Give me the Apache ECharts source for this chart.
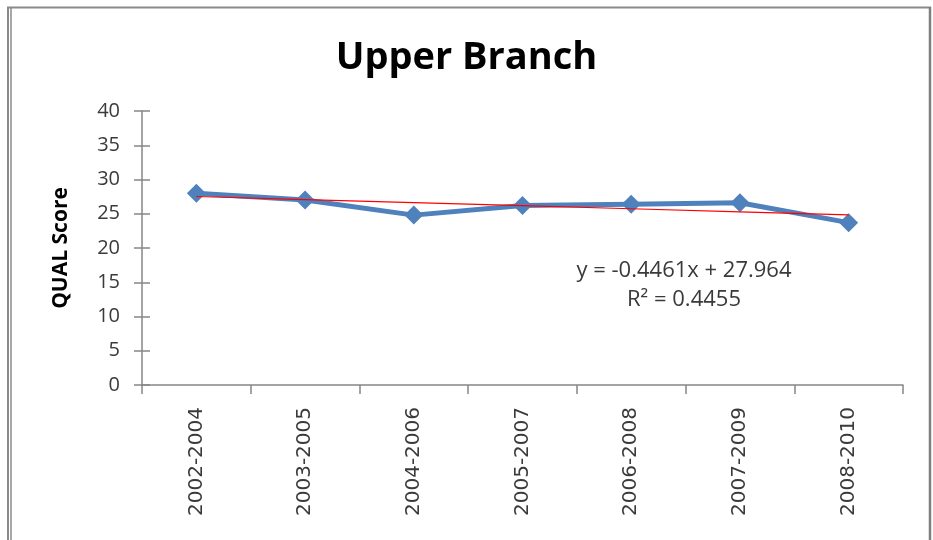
<!DOCTYPE html>
<html>
<head>
<meta charset="utf-8">
<script src="https://cdn.jsdelivr.net/npm/echarts@6/dist/echarts.min.js"></script>
<style>
    html, body { margin: 0; padding: 0; background: #fff; }
    #divChart { width: 933px; height: 540px; }
</style>
</head>
<body>
<div id="divChart"></div>
<script>
// categories (3-year windows)
var periods = ['2002-2004', '2003-2005', '2004-2006', '2005-2007', '2006-2008', '2007-2009', '2008-2010'];
// QUAL score
var qualScore = [28.0, 27.0, 24.8, 26.2, 26.4, 26.6, 23.7];
// linear trend as printed on the chart
var trendSlope = -0.4461;
var trendIntercept = 27.964;
var trendR2 = 0.4455;
var yTicks = [0, 5, 10, 15, 20, 25, 30, 35, 40];

// trend line values from the printed equation (x = 1..n)
var trendLine = [];
for (var i = 0; i < periods.length; i++) {
    trendLine.push(+(trendIntercept + trendSlope * (i + 1)).toFixed(3));
}

var axisGray = '#868686';
var labelColor = '#3a3a3a';

var myChart = echarts.init(document.getElementById('divChart'));

var option = {
    animation: false,
    backgroundColor: '#fff',
    grid: {
        left: 142,
        right: 30,
        top: 111,
        bottom: 155
    },
    xAxis: [{
        type: 'category',
        data: periods,
        boundaryGap: true,
        axisLine: { lineStyle: { color: axisGray, width: 1.5 } },
        axisTick: { show: true, length: 9, lineStyle: { color: axisGray, width: 1.5 } },
        axisLabel: {
            rotate: 90,
            margin: 22,
            color: labelColor,
            fontFamily: 'DejaVu Sans',
            fontSize: 20
        },
        splitLine: { show: false }
    }],
    yAxis: [{
        type: 'value',
        min: yTicks[0],
        max: yTicks[yTicks.length - 1],
        interval: 5,
        name: 'QUAL Score',
        nameLocation: 'middle',
        nameGap: 70,
        nameRotate: 90,
        nameTextStyle: {
            color: '#000',
            fontFamily: 'Open Sans',
            fontWeight: 'bold',
            fontSize: 21
        },
        axisLine: { show: true, lineStyle: { color: axisGray, width: 1.5 } },
        axisTick: { show: true, length: 8, lineStyle: { color: axisGray, width: 1.5 } },
        axisLabel: {
            margin: 22,
            color: labelColor,
            fontFamily: 'Open Sans',
            fontSize: 20
        },
        splitLine: { show: false }
    }, {
        // inner half of the cross ticks
        type: 'value',
        position: 'left',
        min: yTicks[0],
        max: yTicks[yTicks.length - 1],
        interval: 5,
        axisLine: { show: false },
        axisTick: { show: true, inside: true, length: 8, lineStyle: { color: axisGray, width: 1.5 } },
        axisLabel: { show: false },
        splitLine: { show: false }
    }],
    series: [{
        name: 'QUAL Score',
        type: 'line',
        data: qualScore,
        symbol: 'diamond',
        symbolSize: 19,
        lineStyle: { color: '#4F81BD', width: 5 },
        itemStyle: { color: '#4F81BD' },
        z: 2
    }, {
        name: 'Linear',
        type: 'line',
        data: trendLine,
        symbol: 'none',
        lineStyle: { color: '#FF0000', width: 1.2 },
        z: 3
    }],
    graphic: [
        // frame around the chart
        { type: 'line', shape: { x1: 7, y1: 7.5, x2: 931, y2: 7.5 }, style: { stroke: '#8a8a8a', lineWidth: 2 } },
        { type: 'line', shape: { x1: 8, y1: 7, x2: 8, y2: 540 }, style: { stroke: '#8a8a8a', lineWidth: 2 } },
        { type: 'line', shape: { x1: 11, y1: 7, x2: 11, y2: 540 }, style: { stroke: '#8a8a8a', lineWidth: 1.5 } },
        { type: 'line', shape: { x1: 930, y1: 7, x2: 930, y2: 540 }, style: { stroke: '#808080', lineWidth: 2.5 } },
        {
            type: 'text',
            left: 'center',
            top: 39,
            style: {
                text: 'Upper Branch',
                fill: '#000',
                font: 'bold 38px "Open Sans"'
            }
        },
        {
            type: 'text',
            x: 684,
            y: 285,
            style: {
                text: 'y = ' + trendSlope + 'x + ' + trendIntercept + '\nR² = ' + trendR2,
                fill: '#3a3a3a',
                font: '22px "Open Sans"',
                align: 'center',
                verticalAlign: 'middle',
                lineHeight: 29
            }
        }
    ]
};

myChart.setOption(option);
</script>
</body>
</html>
